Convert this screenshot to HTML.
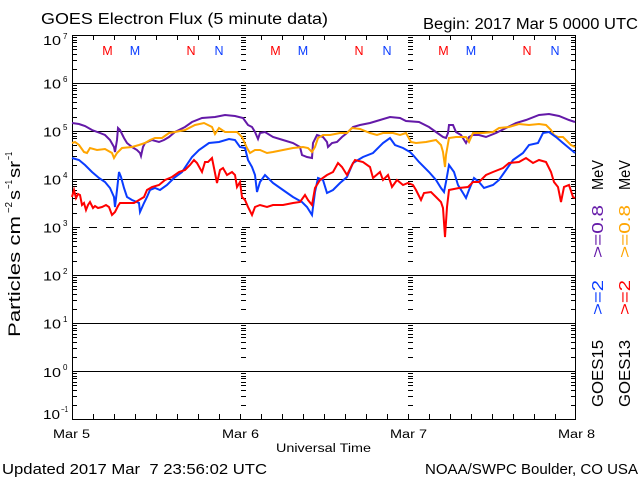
<!DOCTYPE html>
<html><head><meta charset="utf-8"><style>
html,body{margin:0;padding:0;background:#fff;}
svg{display:block;}
text{font-family:"Liberation Sans",sans-serif;fill:#000;}
</style></head><body>
<svg width="640" height="480" viewBox="0 0 640 480" xmlns="http://www.w3.org/2000/svg" xmlns:xlink="http://www.w3.org/1999/xlink">
<rect width="640" height="480" fill="#fff"/>
<defs>
<path id="dec" d="M0 -13.5h5M0 -22.5h5M0 -28.5h5M0 -33.5h5M0 -36.5h5M0 -40.5h5M0 -42.5h5M0 -45.5h5" stroke="#000" stroke-width="1" fill="none"/>
<g id="col">
<use xlink:href="#dec" y="419"/><use xlink:href="#dec" y="371"/><use xlink:href="#dec" y="323"/><use xlink:href="#dec" y="275"/>
<use xlink:href="#dec" y="227"/><use xlink:href="#dec" y="179"/><use xlink:href="#dec" y="131"/><use xlink:href="#dec" y="83"/>
</g>
</defs>

<!-- title -->
<text x="41" y="24" font-size="15.5" textLength="287" lengthAdjust="spacingAndGlyphs">GOES Electron Flux (5 minute data)</text>
<text x="423" y="29" font-size="15.5" textLength="215" lengthAdjust="spacingAndGlyphs">Begin: 2017 Mar 5 0000 UTC</text>

<!-- grid -->
<g shape-rendering="crispEdges" stroke="#000" stroke-width="1" fill="none">
<path d="M72 83.5H576M72 131.5H576M72 179.5H576M72 275.5H576M72 323.5H576M72 371.5H576"/>
<path d="M72 227.5H576" stroke-dasharray="8 9"/>
<rect x="72.5" y="35.5" width="503" height="384"/>
<!-- top/bottom ticks -->
<path d="M93.5 35v5M114.5 35v5M135.5 35v5M156.5 35v5M177.5 35v5M198.5 35v5M219.5 35v5M261.5 35v5M282.5 35v5M303.5 35v5M324.5 35v5M345.5 35v5M366.5 35v5M387.5 35v5M429.5 35v5M450.5 35v5M471.5 35v5M492.5 35v5M513.5 35v5M534.5 35v5M555.5 35v5"/>
<path d="M93.5 419v-5M114.5 419v-5M135.5 419v-5M156.5 419v-5M177.5 419v-5M198.5 419v-5M219.5 419v-5M240.5 419v-5M261.5 419v-5M282.5 419v-5M303.5 419v-5M324.5 419v-5M345.5 419v-5M366.5 419v-5M387.5 419v-5M408.5 419v-5M429.5 419v-5M450.5 419v-5M471.5 419v-5M492.5 419v-5M513.5 419v-5M534.5 419v-5M555.5 419v-5"/>
<path d="M72 227.5h7"/>
</g>
<g shape-rendering="crispEdges">
<use xlink:href="#col" x="72"/>
<use xlink:href="#col" x="571"/>
<use xlink:href="#col" x="241"/>
<use xlink:href="#col" x="408"/>
</g>

<!-- M/N labels -->
<g font-size="12.5" text-anchor="middle">
<text x="107.5" y="55" fill="#ff0000" style="fill:#ff0000">M</text>
<text x="135" y="55" style="fill:#0a3cff">M</text>
<text x="191" y="55" style="fill:#ff0000">N</text>
<text x="219" y="55" style="fill:#0a3cff">N</text>
<text x="275.5" y="55" style="fill:#ff0000">M</text>
<text x="303" y="55" style="fill:#0a3cff">M</text>
<text x="359" y="55" style="fill:#ff0000">N</text>
<text x="387" y="55" style="fill:#0a3cff">N</text>
<text x="443.5" y="55" style="fill:#ff0000">M</text>
<text x="471" y="55" style="fill:#0a3cff">M</text>
<text x="527" y="55" style="fill:#ff0000">N</text>
<text x="555" y="55" style="fill:#0a3cff">N</text>
</g>

<!-- data -->
<g fill="none" stroke-width="2" stroke-linejoin="miter">
<polyline stroke="#6419a8" points="72,123 79,124 85,126 92,130 100,133 105,135 110,140 114,147 115,152 117,140 118,128 120,130 124,138 127,143 132,147 137,150 140,153 141,156 143,147 145,143 152,140 159,142 164,140 169,137 175,132 185,127 192,122 202,118 215,117 225,115 235,116 243,118 248,125 252,127 255,132 258,139 260,133 265,132 273,137 283,140 293,143 300,147 302,155 307,157 312,158 313,143 317,135 323,137 327,142 328,147 332,143 337,142 342,137 347,133 353,127 360,125 370,123 380,120 390,117 400,118 406,121 419,122 429,127 436,132 443,137 446,138 448,133 449,125 453,125 456,132 461,135 466,143 469,137 473,135 479,135 486,137 496,133 506,128 516,123 526,120 539,115 549,114 559,116 569,120 575,122"/>
<polyline stroke="#ffa500" points="72,143 75,142 79,145 84,152 87,153 90,148 97,150 105,149 112,153 114,158 117,153 122,148 132,147 139,145 145,143 150,140 155,138 162,138 169,133 175,132 185,130 195,125 204,123 208,125 212,127 215,134 219,128 225,132 232,132 237,132 242,137 247,148 250,153 255,150 260,150 267,153 273,152 283,150 293,148 303,147 308,148 312,152 315,147 318,138 323,135 330,135 340,133 347,133 352,128 360,129 370,133 377,135 383,133 393,133 400,135 406,133 411,142 416,143 426,142 436,140 441,145 443,152 445,167 446,155 449,138 456,137 466,137 469,142 473,133 483,133 493,132 499,128 509,127 519,124 529,125 539,124 546,125 551,130 554,135 558,137 563,137 566,140 571,145 575,147"/>
<polyline stroke="#0a3cff" points="72,158 79,160 85,165 92,172 99,178 105,182 110,188 114,197 115,207 117,190 119,172 121,177 124,188 127,197 132,200 139,203 140,212 144,203 147,197 150,190 155,188 160,190 167,185 174,178 182,172 192,157 199,150 209,143 219,142 229,139 235,140 240,147 245,148 248,160 252,167 255,175 257,192 260,182 265,175 273,183 283,190 293,197 302,202 307,207 312,215 315,192 318,178 323,180 327,193 333,190 340,183 347,177 353,163 363,157 373,153 383,143 390,138 395,145 403,148 410,152 413,155 419,162 429,172 436,180 441,188 444,192 446,182 449,165 454,172 458,185 463,193 466,198 469,190 474,178 479,182 484,188 493,185 499,180 506,170 513,160 523,153 529,145 538,143 543,133 549,132 556,137 563,143 569,148 575,153"/>
<polyline stroke="#ff0000" points="72,197 74,190 76,198 78,194 80,195 82,205 84,203 86,210 88,205 90,202 93,208 95,206 98,208 102,207 106,205 109,207 112,215 115,212 118,206 120,203 127,203 134,203 139,200 144,197 147,190 152,187 159,185 165,180 172,177 179,172 185,170 190,165 194,160 197,163 202,172 205,162 208,162 212,158 215,173 217,183 220,170 223,168 227,175 232,172 235,175 237,187 240,182 242,197 245,200 248,207 252,215 255,207 260,205 267,207 273,205 283,205 293,203 300,202 305,195 308,200 312,205 315,188 320,180 327,175 333,172 338,163 342,167 347,175 352,165 355,160 363,162 370,167 373,178 380,172 383,180 388,175 392,187 397,180 403,185 408,183 413,185 416,190 421,200 424,193 431,192 436,197 441,202 443,208 445,237 447,207 449,190 459,188 468,187 473,182 479,182 486,175 493,172 503,168 509,163 519,162 526,158 533,163 539,160 546,162 551,172 554,182 558,187 561,202 564,187 569,185 573,197 575,198"/>
</g>

<!-- y tick labels -->
<g font-size="12.5">
<text x="43" y="45" textLength="18" lengthAdjust="spacingAndGlyphs">10</text><text x="63" y="39" font-size="8">7</text>
<text x="43" y="88.5" textLength="18" lengthAdjust="spacingAndGlyphs">10</text><text x="63" y="82" font-size="8">6</text>
<text x="43" y="136.5" textLength="18" lengthAdjust="spacingAndGlyphs">10</text><text x="63" y="130" font-size="8">5</text>
<text x="43" y="184.5" textLength="18" lengthAdjust="spacingAndGlyphs">10</text><text x="63" y="178" font-size="8">4</text>
<text x="43" y="232.5" textLength="18" lengthAdjust="spacingAndGlyphs">10</text><text x="63" y="226" font-size="8">3</text>
<text x="43" y="280.5" textLength="18" lengthAdjust="spacingAndGlyphs">10</text><text x="63" y="274" font-size="8">2</text>
<text x="43" y="328.5" textLength="18" lengthAdjust="spacingAndGlyphs">10</text><text x="63" y="322" font-size="8">1</text>
<text x="43" y="377" textLength="18" lengthAdjust="spacingAndGlyphs">10</text><text x="63" y="370" font-size="8">0</text>
<text x="43" y="419" textLength="17" lengthAdjust="spacingAndGlyphs">10</text><text x="61" y="412" font-size="8" textLength="7" lengthAdjust="spacingAndGlyphs">−1</text>
</g>

<!-- y axis title -->
<g transform="translate(20,337) rotate(-90)" font-size="17">
<text x="0" y="0" textLength="121" lengthAdjust="spacingAndGlyphs">Particles cm</text>
<text x="124" y="-8" font-size="10" textLength="11" lengthAdjust="spacingAndGlyphs">−2</text>
<text x="137" y="0" textLength="10" lengthAdjust="spacingAndGlyphs">s</text>
<text x="148" y="-8" font-size="10" textLength="9" lengthAdjust="spacingAndGlyphs">−1</text>
<text x="159" y="0" textLength="17" lengthAdjust="spacingAndGlyphs">sr</text>
<text x="177" y="-8" font-size="10" textLength="8" lengthAdjust="spacingAndGlyphs">−1</text>
</g>

<!-- right legend -->
<g transform="translate(603,407) rotate(-90)" font-size="16">
<text x="0" y="0" textLength="67" lengthAdjust="spacingAndGlyphs">GOES15</text>
<text x="92" y="0" textLength="35" lengthAdjust="spacingAndGlyphs" style="fill:#0a3cff">&gt;=2</text>
<text x="149" y="0" textLength="53" lengthAdjust="spacingAndGlyphs" style="fill:#6419a8">&gt;=0.8</text>
<text x="217" y="0" textLength="30" lengthAdjust="spacingAndGlyphs">MeV</text>
</g>
<g transform="translate(630,407) rotate(-90)" font-size="16">
<text x="0" y="0" textLength="67" lengthAdjust="spacingAndGlyphs">GOES13</text>
<text x="92" y="0" textLength="35" lengthAdjust="spacingAndGlyphs" style="fill:#ff0000">&gt;=2</text>
<text x="149" y="0" textLength="53" lengthAdjust="spacingAndGlyphs" style="fill:#ffa500">&gt;=0.8</text>
<text x="217" y="0" textLength="30" lengthAdjust="spacingAndGlyphs">MeV</text>
</g>

<!-- x labels -->
<g font-size="11.5">
<text x="53" y="438" textLength="37" lengthAdjust="spacingAndGlyphs">Mar 5</text>
<text x="222" y="438" textLength="37" lengthAdjust="spacingAndGlyphs">Mar 6</text>
<text x="390" y="438" textLength="37" lengthAdjust="spacingAndGlyphs">Mar 7</text>
<text x="558" y="438" textLength="37" lengthAdjust="spacingAndGlyphs">Mar 8</text>
<text x="276" y="452" textLength="95" lengthAdjust="spacingAndGlyphs">Universal Time</text>
</g>

<text x="2" y="474" font-size="15" textLength="265" lengthAdjust="spacingAndGlyphs" style="white-space:pre" xml:space="preserve">Updated 2017 Mar  7 23:56:02 UTC</text>
<text x="425" y="474" font-size="15" textLength="213" lengthAdjust="spacingAndGlyphs">NOAA/SWPC Boulder, CO USA</text>
</svg>
</body></html>
